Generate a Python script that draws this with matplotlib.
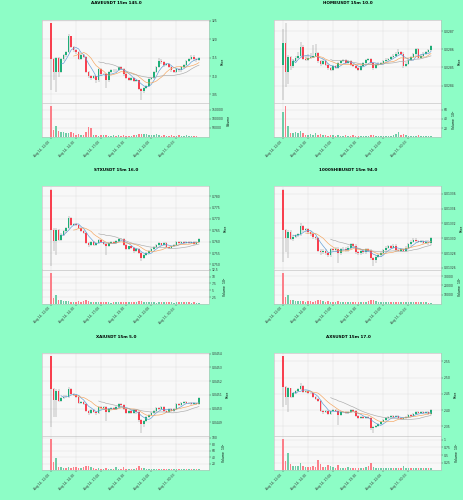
import numpy as np
import pandas as pd
import matplotlib
matplotlib.use('Agg')
import matplotlib.pyplot as plt
from matplotlib.ticker import MultipleLocator, FuncFormatter

# 15m candles, Aug 14 2025
start_time = '2025-08-14 12:00'
n_candles = 60
mav_windows = (5, 10, 20)

# AAVEUSDT
aave_open0 = 324.3
aave_close = [314.7, 311.1, 315.0, 311.1, 314.5, 315.6, 316.5, 320.8, 317.9, 317.0,
              316.5, 314.7, 315.6, 315.2, 311.1, 309.9, 309.5, 309.9, 308.8, 312.0,
              310.5, 310.6, 308.8, 311.1, 311.5, 311.7, 311.5, 312.5, 312.0, 310.5,
              309.5, 309.0, 309.5, 308.6, 308.8, 306.5, 305.9, 306.8, 307.2, 309.3,
              309.5, 311.1, 312.5, 314.1, 313.8, 312.9, 313.4, 312.5, 311.5, 311.1,
              312.0, 311.5, 312.5, 312.9, 314.1, 314.5, 315.2, 314.5, 314.3, 315.0]
aave_high = [324.5, 314.9, 315.3, 315.2, 314.8, 315.9, 316.9, 321.3, 321.0, 318.2,
             317.3, 316.8, 315.9, 315.9, 315.4, 311.4, 310.2, 310.2, 310.1, 312.3,
             312.2, 310.9, 310.9, 311.4, 311.8, 312.0, 311.9, 312.8, 312.7, 312.2,
             310.7, 309.7, 309.8, 309.7, 309.0, 309.0, 306.8, 307.0, 307.5, 309.6,
             309.8, 311.4, 312.8, 315.0, 314.6, 314.0, 313.6, 313.6, 312.7, 311.7,
             312.3, 312.2, 312.8, 313.2, 314.4, 314.8, 315.6, 315.6, 314.8, 315.3]
aave_low = [306.1, 308.8, 305.6, 309.6, 310.8, 314.2, 315.3, 316.2, 317.5, 316.6,
            316.1, 314.3, 314.4, 314.8, 310.8, 309.4, 309.0, 309.1, 308.2, 308.5,
            310.1, 310.2, 306.8, 308.5, 310.8, 311.2, 311.2, 311.3, 311.7, 310.1,
            309.1, 308.6, 308.7, 308.3, 308.3, 306.1, 303.5, 305.5, 306.5, 307.0,
            309.0, 309.2, 310.9, 312.3, 313.4, 312.5, 312.6, 312.2, 311.2, 310.8,
            310.9, 311.2, 311.2, 312.3, 312.7, 313.9, 314.3, 314.2, 313.9, 314.1]
aave_vol = [168500, 38900, 63000, 35000, 29600, 29600, 20400, 22200, 26000, 20400,
            13000, 14800, 13000, 11100, 26000, 53700, 48000, 11100, 9300, 7400,
            13000, 9300, 11100, 5600, 7400, 13000, 7400, 9300, 7400, 9300,
            7400, 5600, 7400, 9300, 11100, 16600, 18500, 16600, 14800, 13000,
            9300, 11100, 14800, 9300, 7400, 9300, 5600, 7400, 9300, 7400,
            5600, 11100, 7400, 7400, 9300, 5600, 7400, 5600, 5600, 3700]

# HOMEUSDT
home_open0 = 0.028511
home_close = [0.028634, 0.028477, 0.028558, 0.028506, 0.028534, 0.028553, 0.028566, 0.028615, 0.028547, 0.028543,
              0.028553, 0.028558, 0.028566, 0.028581, 0.028534, 0.028521, 0.028534, 0.028515, 0.028496, 0.028487,
              0.028506, 0.028496, 0.028525, 0.028534, 0.028540, 0.028525, 0.028534, 0.028515, 0.028506, 0.028496,
              0.028487, 0.028506, 0.028525, 0.028540, 0.028547, 0.028525, 0.028496, 0.028515, 0.028521, 0.028525,
              0.028534, 0.028543, 0.028547, 0.028558, 0.028566, 0.028577, 0.028585, 0.028577, 0.028506, 0.028521,
              0.028543, 0.028558, 0.028572, 0.028600, 0.028553, 0.028566, 0.028577, 0.028585, 0.028596, 0.028619]
home_high = [0.028713, 0.028747, 0.028570, 0.028566, 0.028545, 0.028562, 0.028585, 0.028642, 0.028622, 0.028570,
             0.028575, 0.028580, 0.028625, 0.028630, 0.028588, 0.028540, 0.028545, 0.028540, 0.028522, 0.028502,
             0.028512, 0.028512, 0.028532, 0.028540, 0.028548, 0.028546, 0.028540, 0.028540, 0.028520, 0.028512,
             0.028502, 0.028512, 0.028532, 0.028546, 0.028553, 0.028553, 0.028532, 0.028522, 0.028528, 0.028532,
             0.028540, 0.028550, 0.028553, 0.028565, 0.028573, 0.028584, 0.028600, 0.028592, 0.028584, 0.028528,
             0.028550, 0.028565, 0.028580, 0.028607, 0.028606, 0.028573, 0.028584, 0.028592, 0.028603, 0.028626]
home_low = [0.028321, 0.028392, 0.028411, 0.028487, 0.028496, 0.028528, 0.028545, 0.028558, 0.028540, 0.028534,
            0.028536, 0.028545, 0.028550, 0.028560, 0.028525, 0.028510, 0.028515, 0.028506, 0.028487, 0.028480,
            0.028480, 0.028490, 0.028490, 0.028518, 0.028528, 0.028518, 0.028518, 0.028508, 0.028500, 0.028490,
            0.028480, 0.028480, 0.028500, 0.028518, 0.028534, 0.028518, 0.028484, 0.028490, 0.028508, 0.028515,
            0.028518, 0.028528, 0.028536, 0.028540, 0.028552, 0.028560, 0.028570, 0.028570, 0.028496, 0.028500,
            0.028515, 0.028536, 0.028552, 0.028566, 0.028546, 0.028546, 0.028560, 0.028570, 0.028578, 0.028590]
home_vol = np.array([55.6, 68.0, 23.7, 8.9, 8.9, 12.6, 9.6, 14.8, 8.9, 5.9,
                     5.2, 7.4, 5.9, 8.9, 5.2, 6.7, 4.4, 5.9, 3.7, 5.2,
                     4.4, 3.7, 4.4, 3.7, 3.0, 4.4, 3.0, 3.7, 4.4, 3.0,
                     3.7, 2.2, 3.0, 3.7, 3.0, 4.4, 5.2, 3.7, 3.0, 2.2,
                     3.0, 2.2, 3.0, 3.7, 5.2, 8.1, 11.1, 5.9, 7.4, 4.4,
                     3.0, 3.7, 2.2, 3.0, 4.4, 3.0, 2.2, 3.0, 3.7, 2.2]) * 1e6

# STXUSDT
stx_open0 = 0.7829
stx_close = [0.7653, 0.7601, 0.7653, 0.7609, 0.7631, 0.7646, 0.7660, 0.7704, 0.7675, 0.7678,
             0.7672, 0.7660, 0.7646, 0.7638, 0.7594, 0.7587, 0.7599, 0.7584, 0.7594, 0.7609,
             0.7599, 0.7590, 0.7579, 0.7594, 0.7599, 0.7594, 0.7604, 0.7613, 0.7612, 0.7587,
             0.7569, 0.7579, 0.7572, 0.7560, 0.7569, 0.7550, 0.7528, 0.7540, 0.7550, 0.7560,
             0.7569, 0.7575, 0.7584, 0.7593, 0.7587, 0.7594, 0.7575, 0.7572, 0.7579, 0.7584,
             0.7599, 0.7593, 0.7599, 0.7594, 0.7599, 0.7593, 0.7599, 0.7590, 0.7599, 0.7613]
stx_high = [0.7831, 0.7658, 0.7658, 0.7657, 0.7636, 0.7650, 0.7664, 0.7712, 0.7708, 0.7683,
            0.7681, 0.7675, 0.7663, 0.7650, 0.7641, 0.7597, 0.7603, 0.7602, 0.7598, 0.7613,
            0.7612, 0.7602, 0.7593, 0.7598, 0.7603, 0.7602, 0.7608, 0.7617, 0.7617, 0.7615,
            0.7590, 0.7583, 0.7582, 0.7575, 0.7573, 0.7572, 0.7553, 0.7544, 0.7554, 0.7564,
            0.7573, 0.7579, 0.7588, 0.7597, 0.7596, 0.7598, 0.7597, 0.7578, 0.7583, 0.7588,
            0.7603, 0.7602, 0.7603, 0.7602, 0.7603, 0.7602, 0.7603, 0.7602, 0.7603, 0.7617]
stx_low = [0.7491, 0.7557, 0.7540, 0.7603, 0.7604, 0.7626, 0.7640, 0.7655, 0.7670, 0.7670,
           0.7667, 0.7655, 0.7641, 0.7633, 0.7589, 0.7577, 0.7583, 0.7579, 0.7580, 0.7590,
           0.7595, 0.7586, 0.7543, 0.7575, 0.7590, 0.7590, 0.7590, 0.7600, 0.7607, 0.7583,
           0.7565, 0.7562, 0.7567, 0.7552, 0.7556, 0.7545, 0.7513, 0.7522, 0.7536, 0.7546,
           0.7556, 0.7565, 0.7571, 0.7580, 0.7583, 0.7583, 0.7570, 0.7567, 0.7568, 0.7575,
           0.7580, 0.7589, 0.7589, 0.7590, 0.7590, 0.7589, 0.7589, 0.7586, 0.7586, 0.7595]
stx_vol = np.array([11.5, 2.25, 3.1, 1.5, 1.4, 1.1, 0.9, 1.0, 0.75, 0.6,
                    0.75, 0.9, 0.75, 0.9, 1.4, 1.0, 0.75, 0.6, 0.75, 0.6,
                    0.5, 0.6, 0.75, 0.5, 0.4, 0.5, 0.6, 0.5, 0.6, 0.75,
                    0.6, 0.5, 0.6, 0.5, 0.6, 1.0, 0.9, 0.75, 0.6, 0.5,
                    0.6, 0.5, 0.4, 0.5, 0.6, 0.5, 0.75, 0.6, 0.5, 0.4,
                    0.5, 0.6, 0.5, 0.75, 0.6, 0.5, 0.4, 0.5, 0.4, 0.4]) * 1e5

# 1000SHIBUSDT
shib_open0 = 0.013365
shib_close = [0.013311, 0.013300, 0.013309, 0.013299, 0.013302, 0.013304, 0.013305, 0.013316, 0.013311, 0.013312,
              0.013308, 0.013305, 0.013301, 0.013300, 0.013283, 0.013281, 0.013283, 0.013280, 0.013277, 0.013285,
              0.013284, 0.013286, 0.013280, 0.013285, 0.013286, 0.013284, 0.013287, 0.013292, 0.013290, 0.013281,
              0.013280, 0.013283, 0.013281, 0.013285, 0.013283, 0.013273, 0.013270, 0.013275, 0.013277, 0.013280,
              0.013284, 0.013287, 0.013289, 0.013287, 0.013290, 0.013284, 0.013283, 0.013285, 0.013283, 0.013287,
              0.013292, 0.013295, 0.013298, 0.013296, 0.013295, 0.013296, 0.013294, 0.013295, 0.013293, 0.013300]
shib_high = [0.013366, 0.013313, 0.013311, 0.013311, 0.013304, 0.013306, 0.013307, 0.013320, 0.013318, 0.013314,
             0.013314, 0.013310, 0.013307, 0.013303, 0.013302, 0.013285, 0.013285, 0.013285, 0.013282, 0.013287,
             0.013287, 0.013288, 0.013288, 0.013287, 0.013288, 0.013288, 0.013289, 0.013294, 0.013294, 0.013292,
             0.013283, 0.013285, 0.013285, 0.013287, 0.013287, 0.013285, 0.013275, 0.013277, 0.013279, 0.013282,
             0.013286, 0.013289, 0.013291, 0.013291, 0.013292, 0.013292, 0.013286, 0.013287, 0.013287, 0.013289,
             0.013294, 0.013297, 0.013300, 0.013300, 0.013298, 0.013298, 0.013298, 0.013297, 0.013297, 0.013302]
shib_low = [0.013268, 0.013281, 0.013274, 0.013297, 0.013296, 0.013300, 0.013302, 0.013303, 0.013309, 0.013309,
            0.013306, 0.013303, 0.013299, 0.013297, 0.013281, 0.013278, 0.013279, 0.013278, 0.013275, 0.013275,
            0.013282, 0.013282, 0.013267, 0.013278, 0.013283, 0.013282, 0.013282, 0.013285, 0.013288, 0.013279,
            0.013278, 0.013278, 0.013279, 0.013279, 0.013281, 0.013271, 0.013262, 0.013267, 0.013273, 0.013275,
            0.013278, 0.013282, 0.013285, 0.013285, 0.013285, 0.013282, 0.013281, 0.013281, 0.013281, 0.013281,
            0.013285, 0.013290, 0.013293, 0.013294, 0.013293, 0.013293, 0.013292, 0.013292, 0.013291, 0.013291]
shib_vol = np.array([33700, 7800, 10000, 4400, 4400, 3300, 2600, 3300, 2600, 2200,
                     2600, 2600, 2200, 2600, 3700, 3700, 3000, 2200, 2600, 1900,
                     1900, 2200, 3000, 1900, 1500, 1900, 2200, 1900, 1500, 2200,
                     1900, 1500, 1900, 2200, 2600, 3700, 4100, 2600, 1900, 1500,
                     1900, 1500, 1900, 1500, 1900, 2200, 1900, 1500, 1900, 2200,
                     1900, 2200, 1500, 1900, 1500, 1900, 1500, 1500, 1100, 1100]) * 1e3

# XAIUSDT
xai_open0 = 0.045380
xai_close = [0.045141, 0.045063, 0.045132, 0.045059, 0.045076, 0.045088, 0.045083, 0.045141, 0.045107, 0.045100,
             0.045088, 0.045044, 0.045051, 0.045034, 0.044985, 0.044971, 0.044990, 0.044978, 0.044971, 0.045010,
             0.045002, 0.045015, 0.044978, 0.044995, 0.045002, 0.044995, 0.045010, 0.045034, 0.045027, 0.044995,
             0.044971, 0.044985, 0.044971, 0.044990, 0.044978, 0.044917, 0.044888, 0.044912, 0.044937, 0.044954,
             0.044971, 0.044985, 0.045002, 0.044995, 0.045010, 0.044985, 0.044978, 0.044995, 0.044985, 0.044995,
             0.045034, 0.045024, 0.045039, 0.045051, 0.045039, 0.045044, 0.045034, 0.045039, 0.045034, 0.045076]
xai_high = [0.045385, 0.045149, 0.045140, 0.045140, 0.045084, 0.045096, 0.045096, 0.045156, 0.045149, 0.045115,
            0.045108, 0.045096, 0.045059, 0.045059, 0.045042, 0.044993, 0.044998, 0.044998, 0.044986, 0.045018,
            0.045018, 0.045023, 0.045023, 0.045003, 0.045010, 0.045010, 0.045018, 0.045042, 0.045042, 0.045035,
            0.045003, 0.044993, 0.044993, 0.044998, 0.044998, 0.044986, 0.044925, 0.044920, 0.044945, 0.044962,
            0.044979, 0.044993, 0.045010, 0.045010, 0.045018, 0.045018, 0.044993, 0.045003, 0.045003, 0.045003,
            0.045042, 0.045042, 0.045047, 0.045059, 0.045059, 0.045052, 0.045052, 0.045047, 0.045047, 0.045084]
xai_low = [0.044868, 0.044941, 0.044937, 0.045051, 0.045051, 0.045068, 0.045075, 0.045075, 0.045099, 0.045092,
           0.045080, 0.045036, 0.045036, 0.045026, 0.044977, 0.044955, 0.044963, 0.044970, 0.044955, 0.044963,
           0.044994, 0.044994, 0.044912, 0.044970, 0.044987, 0.044987, 0.044987, 0.045002, 0.045019, 0.044987,
           0.044963, 0.044963, 0.044963, 0.044963, 0.044960, 0.044905, 0.044824, 0.044870, 0.044904, 0.044929,
           0.044946, 0.044963, 0.044977, 0.044987, 0.044987, 0.044977, 0.044970, 0.044970, 0.044977, 0.044977,
           0.044987, 0.045016, 0.045016, 0.045031, 0.045031, 0.045031, 0.045026, 0.045026, 0.045026, 0.045026]
xai_vol = np.array([95.8, 25.0, 37.9, 9.5, 9.5, 8.4, 7.4, 9.5, 6.3, 11.6,
                    9.5, 7.4, 6.3, 11.6, 14.7, 12.6, 9.5, 7.4, 5.3, 6.3,
                    5.3, 4.2, 7.4, 5.3, 4.2, 5.3, 9.5, 4.2, 5.3, 9.5,
                    5.3, 4.2, 5.3, 4.2, 6.3, 14.7, 8.4, 6.3, 5.3, 4.2,
                    3.2, 4.2, 5.3, 4.2, 3.2, 4.2, 5.3, 3.2, 4.2, 3.2,
                    5.3, 4.2, 3.2, 4.2, 3.2, 4.2, 3.2, 4.2, 3.2, 3.2]) * 1e5

# AXSUSDT
axs_open0 = 2.5668
axs_close = [2.4721, 2.4405, 2.4668, 2.4405, 2.4511, 2.4595, 2.4637, 2.4742, 2.4563, 2.4584,
             2.4532, 2.4511, 2.4405, 2.4353, 2.4279, 2.3963, 2.3932, 2.3984, 2.3879, 2.3984,
             2.4005, 2.3963, 2.3858, 2.3932, 2.3940, 2.3900, 2.3932, 2.4005, 2.3984, 2.3826,
             2.3753, 2.3795, 2.3753, 2.3795, 2.3753, 2.3458, 2.3479, 2.3511, 2.3563, 2.3647,
             2.3689, 2.3753, 2.3795, 2.3826, 2.3774, 2.3826, 2.3753, 2.3721, 2.3753, 2.3795,
             2.3858, 2.3826, 2.3879, 2.3932, 2.3900, 2.3932, 2.3900, 2.3932, 2.3879, 2.4005]
axs_high = [2.5670, 2.4750, 2.4700, 2.4690, 2.4540, 2.4625, 2.4670, 2.4847, 2.4770, 2.4615,
            2.4610, 2.4560, 2.4540, 2.4430, 2.4380, 2.4305, 2.3990, 2.4010, 2.4010, 2.4010,
            2.4035, 2.4035, 2.3990, 2.3960, 2.3970, 2.3970, 2.3960, 2.4035, 2.4035, 2.4010,
            2.3855, 2.3825, 2.3825, 2.3825, 2.3825, 2.3780, 2.3510, 2.3540, 2.3590, 2.3675,
            2.3720, 2.3780, 2.3825, 2.3855, 2.3855, 2.3855, 2.3855, 2.3780, 2.3780, 2.3825,
            2.3885, 2.3885, 2.3905, 2.3960, 2.3960, 2.3960, 2.3960, 2.3960, 2.3960, 2.4035]
axs_low = [2.4089, 2.4142, 2.3932, 2.4370, 2.4380, 2.4485, 2.4565, 2.4610, 2.4535, 2.4535,
           2.4505, 2.4485, 2.4375, 2.4325, 2.4250, 2.3935, 2.3870, 2.3905, 2.3850, 2.3850,
           2.3960, 2.3935, 2.3542, 2.3830, 2.3905, 2.3870, 2.3870, 2.3905, 2.3955, 2.3800,
           2.3725, 2.3725, 2.3725, 2.3725, 2.3725, 2.3400, 2.3300, 2.3450, 2.3485, 2.3535,
           2.3620, 2.3660, 2.3725, 2.3765, 2.3745, 2.3745, 2.3725, 2.3690, 2.3690, 2.3725,
           2.3765, 2.3800, 2.3800, 2.3850, 2.3870, 2.3870, 2.3870, 2.3870, 2.3850, 2.3850]
axs_vol = np.array([1.02, 0.32, 0.56, 0.21, 0.16, 0.14, 0.16, 0.24, 0.14, 0.12,
                    0.11, 0.13, 0.14, 0.12, 0.34, 0.21, 0.11, 0.13, 0.18, 0.16,
                    0.12, 0.10, 0.18, 0.10, 0.09, 0.10, 0.12, 0.09, 0.10, 0.09,
                    0.10, 0.09, 0.10, 0.12, 0.14, 0.24, 0.12, 0.10, 0.09, 0.08,
                    0.09, 0.08, 0.09, 0.08, 0.09, 0.10, 0.09, 0.08, 0.16, 0.09,
                    0.08, 0.09, 0.08, 0.09, 0.08, 0.09, 0.08, 0.08, 0.07, 0.07]) * 1e6

titles = ['AAVEUSDT 15m 145.0', 'HOMEUSDT 15m 10.0', 'STXUSDT 15m 16.0',
          '1000SHIBUSDT 15m 94.0', 'XAIUSDT 15m 5.0', 'AXSUSDT 15m 17.0']

BG = '#8dfdc6'
UP, DOWN = '#1fae78', '#f8404f'
VUP, VDOWN = '#6fcca6', '#fb7f89'
WICK = '#8a8a8a'
MAV_COLORS = ['#5b9bd5', '#f5a35b', '#a9a9a9']
FS = 2.2


def draw_chart(fig, col, row, title, open0, close, high, low, vol, ystep, vstep, vexp):
    W, H = 464.0, 500.0
    left = (42 if col == 0 else 274) / W
    width = 167 / W
    top = 20 + 166.5 * row
    ax = fig.add_axes([left, 1 - (top + 83) / H, width, 83 / H])
    axv = fig.add_axes([left, 1 - (top + 117) / H, width, 34 / H], sharex=ax)

    close = np.array(close)
    opens = np.concatenate([[open0], close[:-1]])
    high = np.maximum(np.array(high), np.maximum(opens, close))
    low = np.minimum(np.array(low), np.minimum(opens, close))
    vol = np.asarray(vol, dtype=float)
    x = np.arange(len(close))
    up = close >= opens

    ax.vlines(x, low, high, color=WICK, lw=0.35, zorder=2)
    ax.bar(x, np.abs(close - opens), bottom=np.minimum(opens, close), width=0.65,
           color=np.where(up, UP, DOWN), lw=0, zorder=3)
    cs = pd.Series(close)
    for w, c in zip(mav_windows, MAV_COLORS):
        ax.plot(x, cs.rolling(w).mean(), color=c, lw=0.45, zorder=4)

    axv.bar(x, vol, width=0.6, color=np.where(up, VUP, VDOWN), lw=0, zorder=3)
    axv.set_ylim(0.3 * vol.min(), 1.1 * vol.max())

    rng = high.max() - low.min()
    ax.set_ylim(low.min() - 0.04 * rng, high.max() + 0.035 * rng)
    ax.set_xlim(-3.6, len(close) + 3)

    times = pd.date_range(start_time, periods=n_candles, freq='15min')
    ticks = list(range(0, n_candles, 10))
    axv.set_xticks(ticks)
    axv.set_xticklabels([times[i].strftime('%b %d, %H:%M') for i in ticks],
                        rotation=45, ha='right', fontsize=FS)
    plt.setp(ax.get_xticklabels(), visible=False)

    ax.yaxis.set_major_locator(MultipleLocator(ystep))
    ax.ticklabel_format(axis='y', useOffset=False, style='plain')
    axv.yaxis.set_major_locator(MultipleLocator(vstep))
    scale = 10.0 ** vexp
    axv.yaxis.set_major_formatter(FuncFormatter(lambda v, p: f'{v / scale:g}'))

    for a in (ax, axv):
        a.set_facecolor('#f8f8f8')
        a.yaxis.tick_right()
        a.yaxis.set_label_position('right')
        a.grid(True, color='#dcdcdc', lw=0.3)
        a.set_axisbelow(True)
        a.tick_params(labelsize=FS, length=1.2, width=0.3, pad=1, colors='#333333')
        for s in a.spines.values():
            s.set_color('#bbbbbb')
            s.set_linewidth(0.4)
    ax.set_ylabel('Price', fontsize=FS, labelpad=2)
    vlabel = 'Volume' if vexp == 0 else f'Volume  $10^{{{vexp}}}$'
    axv.set_ylabel(vlabel, fontsize=FS, labelpad=2)

    fig.text(0.25 if col == 0 else 0.75, 1 - (3.5 + 166.5 * row) / H, title,
             ha='center', va='center', fontsize=3.0, fontweight='bold')


def main():
    fig = plt.figure(figsize=(4.64, 5.0), dpi=100, facecolor=BG)
    charts = [
        (0, 0, titles[0], aave_open0, aave_close, aave_high, aave_low, aave_vol, 5, 50000, 0),
        (1, 0, titles[1], home_open0, home_close, home_high, home_low, home_vol, 0.0001, 20e6, 6),
        (0, 1, titles[2], stx_open0, stx_close, stx_high, stx_low, stx_vol, 0.005, 2.5e5, 5),
        (1, 1, titles[3], shib_open0, shib_close, shib_high, shib_low, shib_vol, 0.00002, 10e6, 3),
        (0, 2, titles[4], xai_open0, xai_close, xai_high, xai_low, xai_vol, 0.0001, 20e5, 5),
        (1, 2, titles[5], axs_open0, axs_close, axs_high, axs_low, axs_vol, 0.05, 0.25e6, 6),
    ]
    for c in charts:
        draw_chart(fig, *c)
    fig.savefig('out.png', dpi=100, facecolor=BG)


if __name__ == '__main__':
    main()
